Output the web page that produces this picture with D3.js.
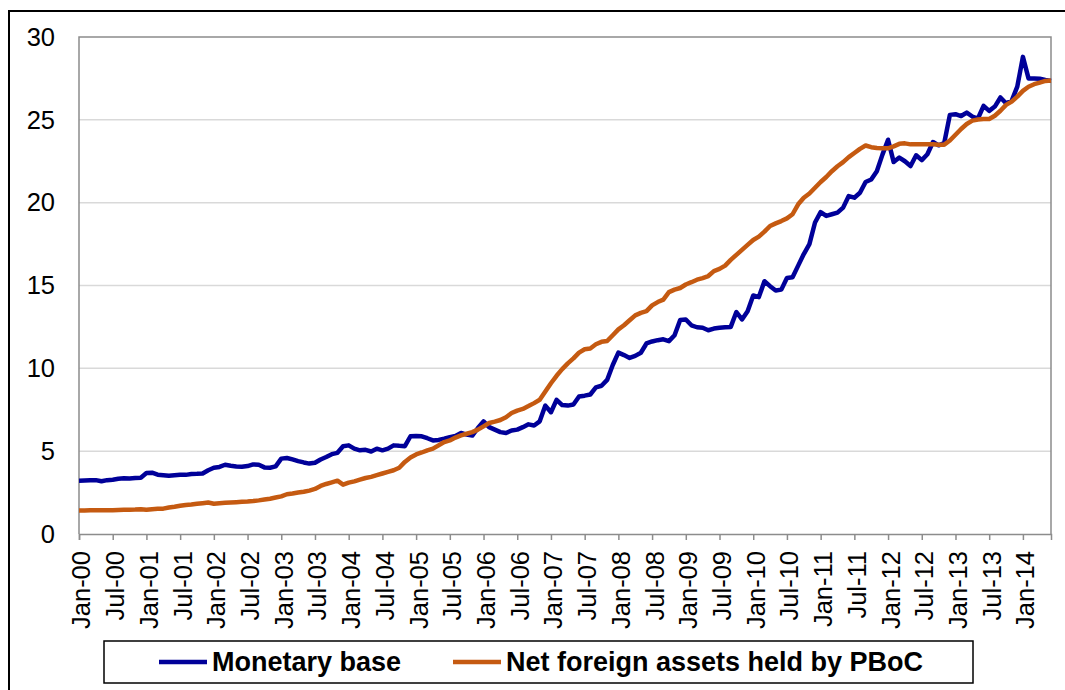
<!DOCTYPE html>
<html lang="en">
<head>
<meta charset="UTF-8">
<title>Monetary base and net foreign assets</title>
<style>
  body { margin: 0; background: #fff; }
  svg { display: block; font-family: "Liberation Sans", Arial, sans-serif; }
</style>
</head>
<body>
<div id="chart"></div>
<script src="https://d3js.org/d3.v7.min.js"></script>
<script>
// monthly, Jan-2000 .. Jun-2014
var startMonth = new Date(2000, 0, 1);
var seriesNames = ["Monetary base", "Net foreign assets held by PBoC"];
var seriesColors = ["#000099", "#c55a11"];

var monetaryBase = [
  3.22, 3.23, 3.24, 3.25, 3.18, 3.25, 3.28, 3.33, 3.36, 3.35, 3.38, 3.40,
  3.68, 3.70, 3.58, 3.55, 3.52, 3.55, 3.58, 3.57, 3.62, 3.63, 3.65, 3.85,
  4.00, 4.05, 4.18, 4.12, 4.08, 4.06, 4.10, 4.20, 4.18, 4.02, 4.00, 4.08,
  4.55, 4.59, 4.50, 4.40, 4.32, 4.25, 4.30, 4.50, 4.65, 4.82, 4.90,
  5.30, 5.35, 5.15, 5.05, 5.08, 4.98, 5.15, 5.05, 5.15, 5.35, 5.32, 5.30,
  5.90, 5.92, 5.90, 5.78, 5.65, 5.68, 5.75, 5.85, 5.92, 6.10, 6.00, 5.94,
  6.40, 6.80, 6.45, 6.30, 6.15, 6.10, 6.25, 6.30, 6.45, 6.62, 6.55, 6.80,
  7.75, 7.35, 8.10, 7.78, 7.75, 7.82, 8.30, 8.35, 8.42, 8.85, 8.95, 9.30,
  10.20, 10.95, 10.80, 10.63, 10.75, 10.94, 11.50, 11.62, 11.70, 11.75, 11.64, 12.00,
  12.92, 12.95, 12.60, 12.48, 12.45, 12.30, 12.40, 12.45, 12.48, 12.50, 13.40, 12.95,
  13.45, 14.40, 14.30, 15.26, 14.96, 14.70, 14.75, 15.45, 15.50, 16.20, 16.90,
  17.50, 18.80, 19.43, 19.20, 19.30, 19.40, 19.70, 20.40, 20.30, 20.60, 21.25, 21.40,
  21.90, 22.90, 23.80, 22.45, 22.72, 22.50, 22.21, 22.86, 22.57, 22.92, 23.66, 23.46,
  23.60, 25.30, 25.34, 25.23, 25.44, 25.20, 25.08, 25.84, 25.54, 25.80, 26.35, 26.00,
  26.15, 27.00, 28.80, 27.50, 27.50, 27.48, 27.41, 27.35
];

var netForeignAssets = [
  1.42, 1.42, 1.43, 1.43, 1.43, 1.43, 1.44, 1.45, 1.46, 1.47, 1.48, 1.50,
  1.46, 1.50, 1.52, 1.53, 1.60, 1.64, 1.70, 1.75, 1.78, 1.82, 1.86, 1.90,
  1.83, 1.86, 1.88, 1.90, 1.92, 1.94, 1.96, 1.99, 2.03, 2.08, 2.13, 2.20,
  2.27, 2.40, 2.44, 2.50, 2.55, 2.62, 2.72, 2.90, 3.02, 3.12, 3.22,
  2.98, 3.10, 3.18, 3.28, 3.38, 3.45, 3.55, 3.65, 3.75, 3.85, 4.00, 4.35,
  4.62, 4.80, 4.92, 5.05, 5.15, 5.35, 5.55, 5.65, 5.82, 5.95, 6.05, 6.15,
  6.30, 6.50, 6.70, 6.78, 6.88, 7.05, 7.30, 7.45, 7.55, 7.72, 7.90, 8.10,
  8.60, 9.10, 9.55, 9.95, 10.30, 10.60, 10.95, 11.15, 11.20, 11.45, 11.60, 11.65,
  12.00, 12.35, 12.60, 12.90, 13.20, 13.35, 13.45, 13.80, 14.00, 14.15, 14.60, 14.75,
  14.85, 15.06, 15.20, 15.35, 15.45, 15.57, 15.87, 16.00, 16.20, 16.55, 16.85, 17.15,
  17.45, 17.75, 17.95, 18.25, 18.59, 18.75, 18.89, 19.05, 19.30, 19.90, 20.30,
  20.55, 20.90, 21.25, 21.55, 21.90, 22.20, 22.45, 22.75, 23.00, 23.25, 23.45, 23.35,
  23.30, 23.28, 23.28, 23.40, 23.55, 23.58, 23.52, 23.52, 23.52, 23.52, 23.52, 23.50,
  23.50, 23.75, 24.10, 24.45, 24.75, 24.95, 25.02, 25.05, 25.05, 25.25, 25.55, 25.90,
  26.10, 26.40, 26.75, 27.00, 27.15, 27.25, 27.35, 27.38
];

var yTicks = [0, 5, 10, 15, 20, 25, 30];

var months = monetaryBase.map(function(d, i) {
    return d3.timeMonth.offset(startMonth, i);
});
var fmtMonth = d3.timeFormat("%b-%y");
var xTickIdx = d3.range(0, months.length, 6);

var width = 1065, height = 690;
var plot = { left: 79, top: 37, right: 1051, bottom: 534 };
var axisFont = "25.5px";

var svg = d3.select("#chart").append("svg")
    .attr("width", width)
    .attr("height", height);

// outer frame (cut off at right and bottom)
svg.append("rect")
    .attr("x", 9).attr("y", 11)
    .attr("width", 1100).attr("height", 720)
    .attr("fill", "none")
    .attr("stroke", "#000")
    .attr("stroke-width", 2);

var x = d3.scaleLinear()
    .domain([0, months.length - 1])
    .range([plot.left, plot.right]);

var y = d3.scaleLinear()
    .domain([0, 30])
    .range([plot.bottom, plot.top]);

// grid
svg.append("g")
    .selectAll("line")
    .data(yTicks.slice(1, -1))
    .enter().append("line")
        .attr("x1", plot.left).attr("x2", plot.right)
        .attr("y1", function(d){ return y(d); })
        .attr("y2", function(d){ return y(d); })
        .attr("stroke", "#d9d9d9")
        .attr("stroke-width", 1.5);

// plot border
svg.append("path")
    .attr("d", "M" + plot.left + "," + plot.bottom + "V" + plot.top + "H" + plot.right + "V" + plot.bottom)
    .attr("fill", "none")
    .attr("stroke", "#8c8c8c")
    .attr("stroke-width", 1.5);

// y axis
var yAxis = d3.axisLeft(y)
    .tickValues(yTicks)
    .tickSize(0)
    .tickPadding(24);

var yG = svg.append("g")
    .attr("transform", "translate(" + plot.left + ",0)")
    .call(yAxis);
yG.select(".domain").remove();
yG.selectAll("text")
    .style("font-size", axisFont)
    .style("font-family", "'Liberation Sans', Arial, sans-serif")
    .attr("fill", "#000");

// x axis
var xAxis = d3.axisBottom(x)
    .tickValues(xTickIdx)
    .tickFormat(function(i){ return fmtMonth(months[i]); })
    .tickSize(6)
    .tickPadding(4);

var xG = svg.append("g")
    .attr("transform", "translate(0," + plot.bottom + ")")
    .call(xAxis);
xG.select(".domain")
    .attr("stroke", "#8c8c8c")
    .attr("stroke-width", 1.5);
xG.selectAll(".tick line")
    .attr("stroke", "#8c8c8c")
    .attr("stroke-width", 1.5);
xG.selectAll("text")
    .style("font-size", axisFont)
    .style("font-family", "'Liberation Sans', Arial, sans-serif")
    .attr("fill", "#000")
    .attr("text-anchor", "end")
    .attr("transform", "rotate(-90)")
    .attr("x", -17)
    .attr("y", 2)
    .attr("dy", "0.35em");

// lines
var line = d3.line()
    .x(function(d, i){ return x(i); })
    .y(function(d){ return y(d); });

[monetaryBase, netForeignAssets].forEach(function(s, k) {
    svg.append("path")
        .datum(s)
        .attr("d", line)
        .attr("fill", "none")
        .attr("stroke", seriesColors[k])
        .attr("stroke-width", 4.5)
        .attr("stroke-linejoin", "round");
});

// legend
svg.append("rect")
    .attr("x", 104).attr("y", 641)
    .attr("width", 869).attr("height", 42)
    .attr("fill", "#fff")
    .attr("stroke", "#000")
    .attr("stroke-width", 1.5);

var legendPos = [159, 453];
seriesNames.forEach(function(name, k) {
    var lg = svg.append("g").attr("transform", "translate(" + legendPos[k] + ",662)");
    lg.append("line")
        .attr("x1", 0).attr("x2", 48)
        .attr("stroke", seriesColors[k])
        .attr("stroke-width", 4.5);
    lg.append("text")
        .attr("x", 53)
        .attr("y", 8.5)
        .style("font-size", "27px")
        .style("font-weight", "bold")
        .text(name);
});
</script>
</body>
</html>
